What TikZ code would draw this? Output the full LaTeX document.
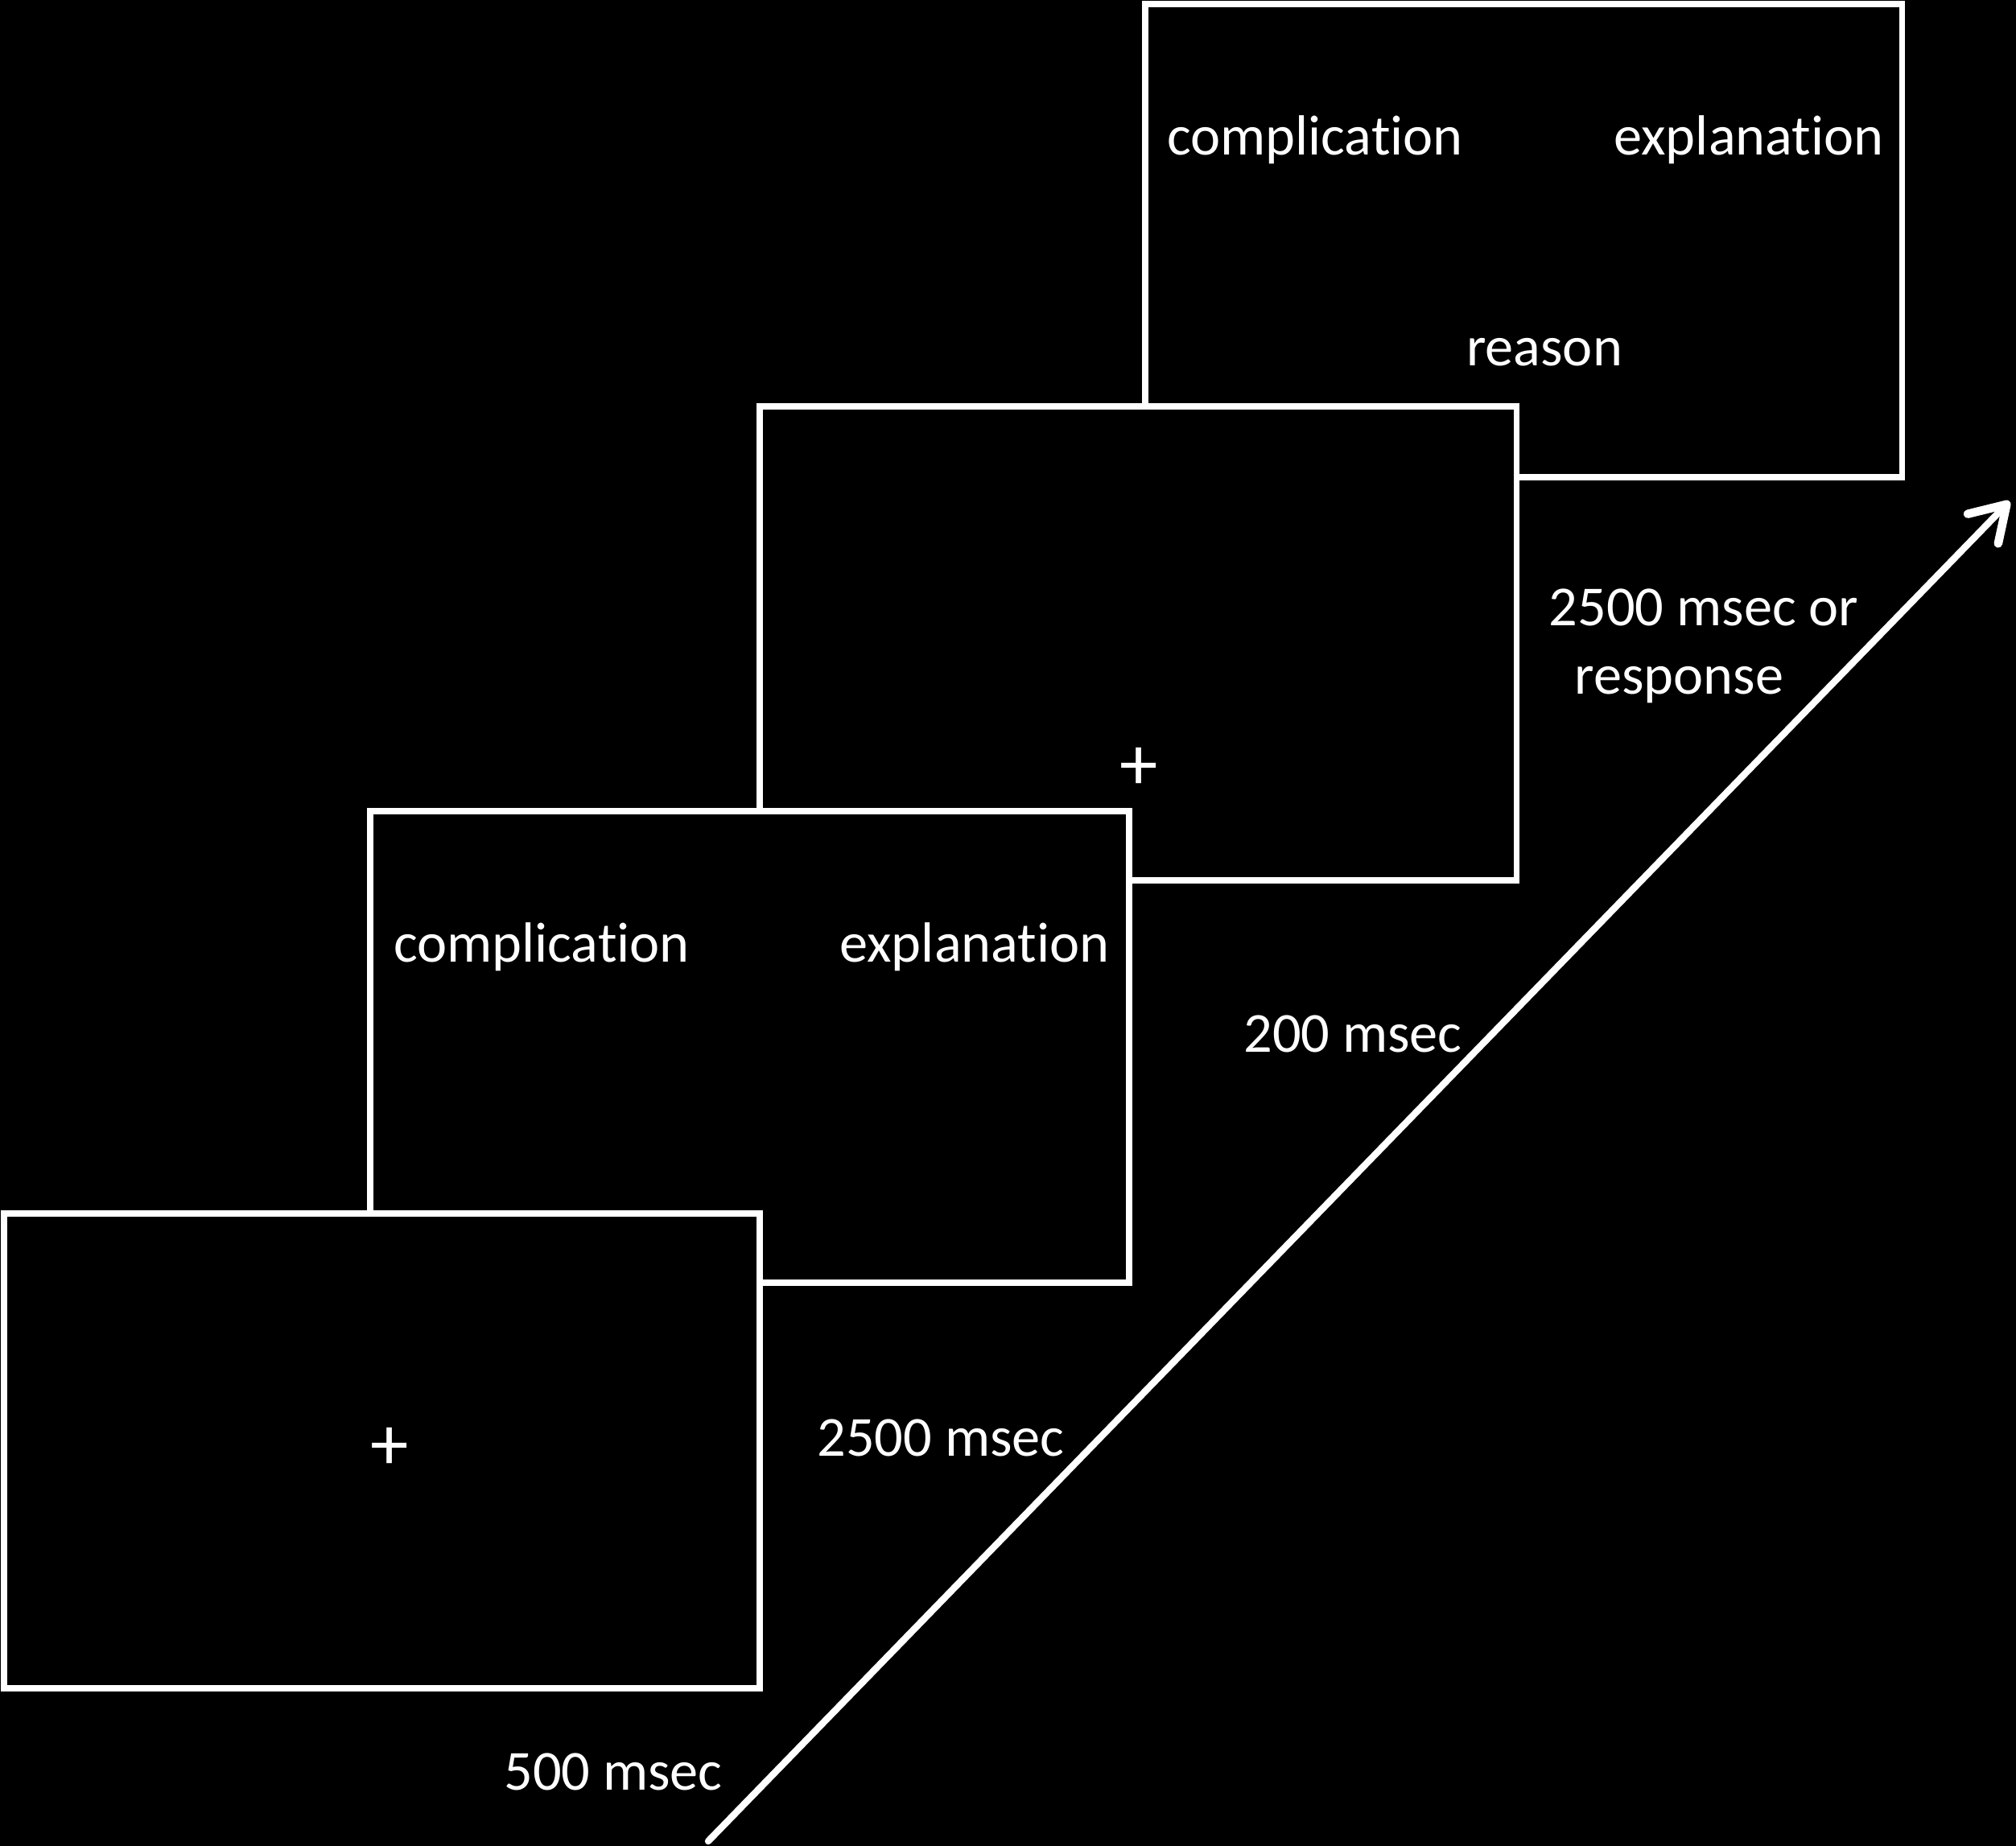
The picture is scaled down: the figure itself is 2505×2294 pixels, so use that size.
\documentclass[tikz,border=0pt]{standalone}
\usepackage{fontspec}
\setmainfont{Carlito}[RawFeature={-liga}]
\usetikzlibrary{arrows.meta}
\begin{document}
\begin{tikzpicture}[x=0.01cm,y=-0.01cm,
  screen/.style={draw=white,fill=black,line width=2pt},
  lbl/.style={text=white,font=\fontsize{20}{24}\selectfont,inner sep=0pt},
  fix/.style={text=white,font=\fontsize{27}{30}\selectfont,inner sep=0pt},
  tlbl/.style={lbl,align=left}]
\fill[black] (0,0) rectangle (2505,2294);
\useasboundingbox (0,0) rectangle (2505,2294);
% screens, back to front
\draw[screen] (1423,5) rectangle (2363,593);
\draw[screen] (944,505) rectangle (1884,1094);
\draw[screen] (460,1008) rectangle (1403,1594);
\draw[screen] (5,1508) rectangle (944,2098);
% screen contents
\node[lbl] (c4) at (1634,174) {complication};
\node[lbl] (e4) at (2173,174) {explanation};
\node[lbl] (r4) at (1919,438) {reason};
\node[fix] (f3) at (1415,955) {+};
\node[lbl] (c2) at (673,1177) {complication};
\node[lbl] (e2) at (1211,1177) {explanation};
\node[fix] (f1) at (484,1800) {+};
% timings
\node[tlbl] (t4) at (2117,803) {2500 msec or\\\hspace*{9pt}response};
\node[lbl] (t3) at (1681,1285) {200 msec};
\node[lbl] (t2) at (1169,1787) {2500 msec};
\node[lbl] (t1) at (762,2202) {500 msec};
% time arrow
\coordinate (as) at (880,2288);
\coordinate (ae) at (2497,623);
\draw[white,line width=2.4pt,line cap=round,
  -{Straight Barb[length=12pt,width=15pt,line width=3pt,round]}] (as) -- (ae);
\end{tikzpicture}
\end{document}
